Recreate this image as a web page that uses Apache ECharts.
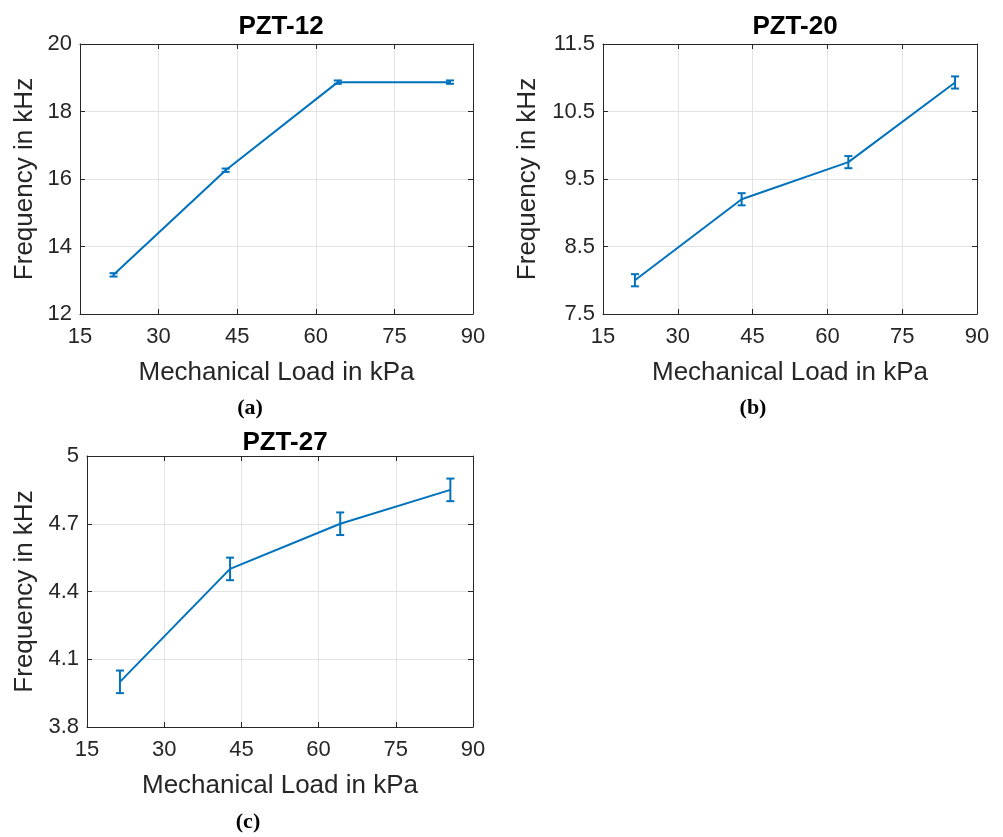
<!DOCTYPE html>
<html>
<head>
<meta charset="utf-8">
<script src="https://cdn.jsdelivr.net/npm/echarts@6/dist/echarts.min.js"></script>
<style>
  html, body { margin: 0; padding: 0; background: #fff; }
  #chart { width: 1003px; height: 837px; }
</style>
</head>
<body>
<div id="chart"></div>
<script>
// Mechanical load steps (kPa), shared by all three sensors
const loads = [21.4, 42.8, 64.2, 85.6];

// Resonance frequency (kHz) and error half-widths per sensor
const freqPZT12 = [13.16, 16.26, 18.87, 18.87];
const errPZT12  = [0.05, 0.05, 0.05, 0.05];
const freqPZT20 = [8.0, 9.2, 9.75, 10.93];
const errPZT20  = [0.09, 0.09, 0.09, 0.09];
const freqPZT27 = [4.0, 4.5, 4.7, 4.85];
const errPZT27  = [0.05, 0.05, 0.05, 0.05];

// Axis ranges
const xRange = { min: 15, max: 90, step: 15 };
const yRangePZT12 = { min: 12, max: 20, step: 2 };
const yRangePZT20 = { min: 7.5, max: 11.5, step: 1 };
const yRangePZT27 = { min: 3.8, max: 5, step: 0.3 };

const titles = ['PZT-12', 'PZT-20', 'PZT-27'];
const captions = ['(a)', '(b)', '(c)'];
const xName = 'Mechanical Load in kPa';
const yName = 'Frequency in kHz';

const LINE = '#0072BD';
const AXIS = '#262626';
const GRIDLINE = '#e3e3e3';
const SANS = '"Liberation Sans", Arial, Helvetica, sans-serif';

const panels = [
  { grid: { left: 80, top: 44, width: 393, height: 270 }, y: yRangePZT12, f: freqPZT12, e: errPZT12, yGap: 42, title: { x: 276, y: 9 }, cap: { x: 250, y: 408 } },
  { grid: { left: 603, top: 44, width: 374, height: 270 }, y: yRangePZT20, f: freqPZT20, e: errPZT20, yGap: 62, title: { x: 790, y: 9 }, cap: { x: 753, y: 408 } },
  { grid: { left: 87, top: 456, width: 386, height: 271 }, y: yRangePZT27, f: freqPZT27, e: errPZT27, yGap: 49, title: { x: 280, y: 425 }, cap: { x: 248, y: 822 } }
];

const fmt = v => String(+v.toFixed(2));

const option = {
  animation: false,
  backgroundColor: '#fff',
  title: [], grid: [], xAxis: [], yAxis: [], series: [], graphic: []
};

panels.forEach((p, i) => {
  option.grid.push(Object.assign({ containLabel: false }, p.grid));
  option.title.push({
    text: titles[i], left: p.title.x, top: p.title.y, textAlign: 'center',
    textStyle: { fontFamily: SANS, fontSize: 26, fontWeight: 'bold', color: '#000' }
  });

  const xi = option.xAxis.length;
  const yi = option.yAxis.length;

  // bottom x-axis with labels and grid
  option.xAxis.push({
    type: 'value', gridIndex: i, min: xRange.min, max: xRange.max, interval: xRange.step,
    position: 'bottom',
    name: xName, nameLocation: 'middle', nameGap: 46,
    nameTextStyle: { fontFamily: SANS, fontSize: 26, color: AXIS },
    axisLine: { show: true, onZero: false, lineStyle: { color: AXIS, width: 1 } },
    axisTick: { show: true, inside: true, length: 5, lineStyle: { color: AXIS } },
    axisLabel: { fontFamily: SANS, fontSize: 22, color: AXIS, margin: 12, formatter: fmt },
    splitLine: { show: true, lineStyle: { color: GRIDLINE, width: 1 } }
  });
  // top x-axis closing the box
  option.xAxis.push({
    type: 'value', gridIndex: i, min: xRange.min, max: xRange.max, interval: xRange.step,
    position: 'top',
    axisLine: { show: true, onZero: false, lineStyle: { color: AXIS, width: 1 } },
    axisTick: { show: true, inside: true, length: 5, lineStyle: { color: AXIS } },
    axisLabel: { show: false }, splitLine: { show: false }
  });
  // left y-axis with labels and grid
  option.yAxis.push({
    type: 'value', gridIndex: i, min: p.y.min, max: p.y.max, interval: p.y.step,
    position: 'left',
    name: yName, nameLocation: 'middle', nameGap: p.yGap,
    nameTextStyle: { fontFamily: SANS, fontSize: 26, color: AXIS },
    axisLine: { show: true, onZero: false, lineStyle: { color: AXIS, width: 1 } },
    axisTick: { show: true, inside: true, length: 5, lineStyle: { color: AXIS } },
    axisLabel: { fontFamily: SANS, fontSize: 22, color: AXIS, margin: 8, formatter: fmt },
    splitLine: { show: true, lineStyle: { color: GRIDLINE, width: 1 } }
  });
  // right y-axis closing the box
  option.yAxis.push({
    type: 'value', gridIndex: i, min: p.y.min, max: p.y.max, interval: p.y.step,
    position: 'right',
    axisLine: { show: true, onZero: false, lineStyle: { color: AXIS, width: 1 } },
    axisTick: { show: true, inside: true, length: 5, lineStyle: { color: AXIS } },
    axisLabel: { show: false }, splitLine: { show: false }
  });

  // mean frequency line
  option.series.push({
    type: 'line', xAxisIndex: xi, yAxisIndex: yi,
    data: loads.map((x, k) => [x, p.f[k]]),
    symbol: 'none', lineStyle: { color: LINE, width: 2 }, z: 3
  });
  // error bars with caps
  option.series.push({
    type: 'custom', xAxisIndex: xi, yAxisIndex: yi,
    data: loads.map((x, k) => [x, p.f[k] - p.e[k], p.f[k] + p.e[k]]),
    encode: { x: 0, y: [1, 2] },
    z: 4,
    renderItem: (params, api) => {
      const lo = api.coord([api.value(0), api.value(1)]);
      const hi = api.coord([api.value(0), api.value(2)]);
      const w = 4;
      const style = { stroke: LINE, lineWidth: 2 };
      return {
        type: 'group',
        children: [
          { type: 'line', shape: { x1: lo[0], y1: lo[1], x2: hi[0], y2: hi[1] }, style },
          { type: 'line', shape: { x1: lo[0] - w, y1: lo[1], x2: lo[0] + w, y2: lo[1] }, style },
          { type: 'line', shape: { x1: hi[0] - w, y1: hi[1], x2: hi[0] + w, y2: hi[1] }, style }
        ]
      };
    }
  });

  // sub-figure caption
  option.graphic.push({
    type: 'text', left: p.cap.x, top: p.cap.y,
    style: {
      text: captions[i], x: 0, y: 0, textAlign: 'center', textVerticalAlign: 'middle',
      font: 'bold 22px "Liberation Serif", "DejaVu Serif", serif', fill: '#000'
    }
  });
});

// captions positioned by their centre
option.graphic = option.graphic.map(g => ({
  type: 'text', x: g.left, y: g.top,
  style: Object.assign({}, g.style, { align: 'center', verticalAlign: 'middle' })
}));

const chart = echarts.init(document.getElementById('chart'), null, { renderer: 'canvas' });
chart.setOption(option);
</script>
</body>
</html>
